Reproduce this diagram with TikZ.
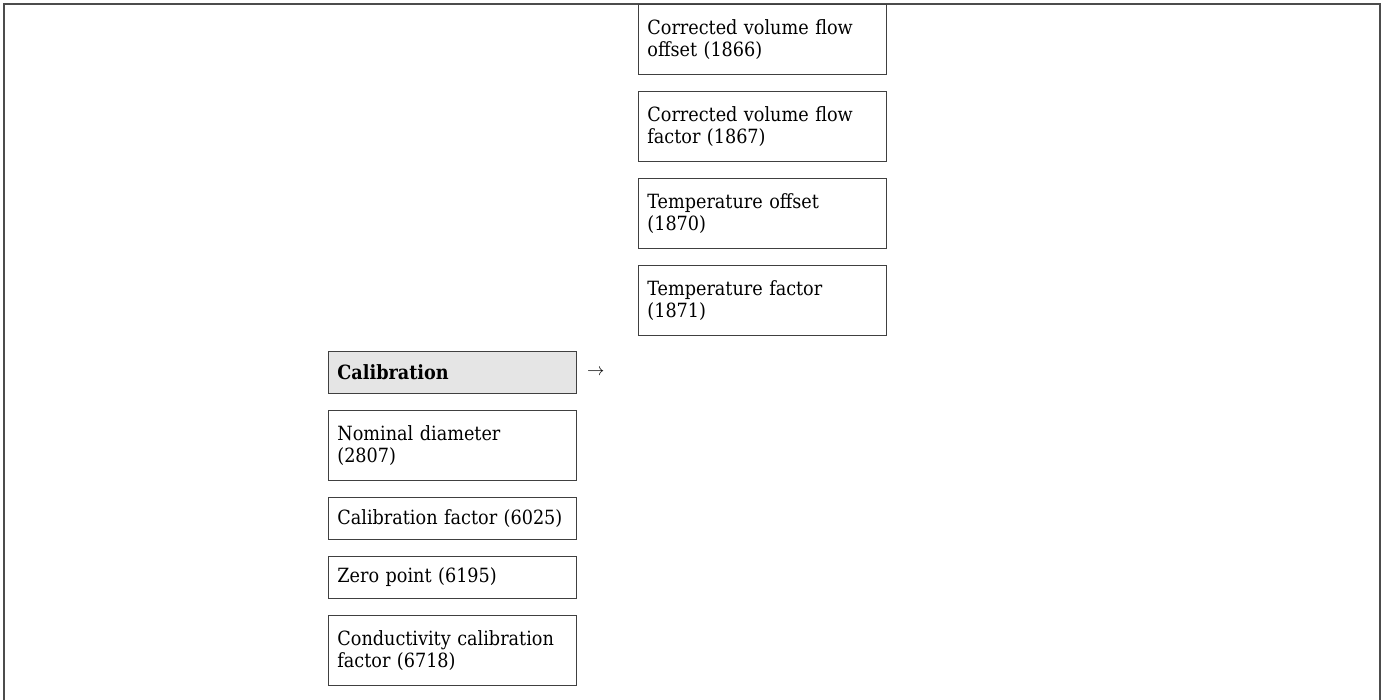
\documentclass[tikz,border=0pt]{standalone}
\usepackage{fontspec}
\setmainfont{DejaVu Serif Condensed}
\usetikzlibrary{positioning}

\begin{document}
\begin{tikzpicture}[
    x=1pt, y=-1pt,
    node distance=16.2pt,
    param/.style={rectangle, draw=black!75, line width=0.8pt, text width=230pt, align=left, inner xsep=9pt, inner ysep=0pt, minimum height=42pt, font=\fontsize{19.6}{21.7}\selectfont},
    tall/.style={param, minimum height=70pt},
    group/.style={param, fill=black!10, font=\fontsize{19.6}{21.7}\selectfont\bfseries},
    frameline/.style={draw=black!70, line width=1.2pt}
]
\useasboundingbox (0,0) rectangle (1386,700);

\draw[frameline] (4,700) -- (4,4) -- (1380,4) -- (1380,700);

\node[tall, anchor=north west] (offset) at (638,4) {Corrected volume flow\\offset (1866)};
\node[tall, below=of offset] (factor) {Corrected volume flow\\factor (1867)};
\node[tall, below=of factor] (toffset) {Temperature offset\\(1870)};
\node[tall, below=of toffset] (tfactor) {Temperature factor\\(1871)};

\node[group, anchor=north west] (calib) at (328,351) {Calibration};
\node[right=10pt of calib, inner sep=0pt, font=\fontsize{17}{19}\selectfont] (more) {$\rightarrow$};
\node[tall, below=of calib] (diam) {Nominal diameter\\(2807)};
\node[param, below=of diam] (cfactor) {Calibration factor (6025)};
\node[param, below=of cfactor] (zero) {Zero point (6195)};
\node[tall, below=of zero] (cond) {Conductivity calibration\\factor (6718)};

\end{tikzpicture}
\end{document}
